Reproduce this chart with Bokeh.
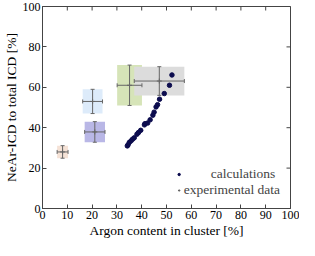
import math
from bokeh.plotting import figure
from bokeh.models import (ColumnDataSource, Whisker, TeeHead,
                          FixedTicker, Legend, LegendItem, Range1d)
from bokeh.embed import file_html
from bokeh.resources import INLINE

# calculations
calc_x = [34.2, 34.5, 35.0, 35.7, 36.3, 37.0, 38.1, 38.7, 39.6, 41.1, 41.3,
          42.4, 43.4, 44.5, 45.0, 45.8, 46.4, 47.2, 49.1, 51.2, 52.2]
calc_y = [31.0, 31.5, 32.7, 33.5, 34.3, 35.0, 36.8, 37.6, 38.7, 41.4, 42.0,
          42.3, 43.9, 46.2, 47.7, 50.3, 51.4, 54.1, 56.9, 61.0, 66.1]

# experimental data
exp_x = [8.1, 21.1, 20.2, 35.1, 47.1]
exp_y = [28.0, 37.9, 53.0, 61.0, 63.1]
exp_xerr = [2.2, 4.1, 4.0, 5.0, 10.1]
exp_yerr = [3.1, 5.1, 6.0, 10.0, 7.1]
exp_colors = ["#f5e2d6", "#b9b7e6", "#ddebfa", "#d6e4b8", "#dcdcdc"]

x_ticks = [0, 10, 20, 30, 40, 50, 60, 70, 80, 90, 100]
y_ticks = [0, 20, 40, 60, 80, 100]

legend_labels = ["calculations", "experimental data"]

FONT = "Liberation Serif"
AX_COL = "#444444"

src = ColumnDataSource(dict(
    x=exp_x, y=exp_y,
    left=[a - b for a, b in zip(exp_x, exp_xerr)],
    right=[a + b for a, b in zip(exp_x, exp_xerr)],
    bottom=[a - b for a, b in zip(exp_y, exp_yerr)],
    top=[a + b for a, b in zip(exp_y, exp_yerr)],
    color=exp_colors,
))

p = figure(width=299, height=240, output_backend="svg", toolbar_location=None,
           x_range=Range1d(0, 100), y_range=Range1d(0, 100),
           min_border_top=6, min_border_right=9, min_border_left=0,
           min_border_bottom=0)
p.grid.visible = False
p.outline_line_color = AX_COL
p.background_fill_color = "white"

p.quad(left="left", right="right", bottom="bottom", top="top", source=src,
       fill_color="color", line_color=None)

err_col = "#666666"
for dim, base, lo, hi in [("width", "y", "left", "right"),
                          ("height", "x", "bottom", "top")]:
    w = Whisker(base=base, lower=lo, upper=hi, source=src, dimension=dim,
                line_color=err_col, line_width=1, level="annotation",
                upper_head=TeeHead(size=4, line_color=err_col, line_width=1),
                lower_head=TeeHead(size=4, line_color=err_col, line_width=1))
    p.add_layout(w)

cross_r = p.scatter(exp_x, exp_y, marker="cross", size=5, line_color=err_col,
                    line_width=1)
calc_r = p.scatter(calc_x, calc_y, marker="circle", size=4.5, fill_color="#0c0c4e",
                   line_color="#0c0c4e")

# mirror ticks on top and right edges (clipped to the frame)
x_end = p.x_range.end
y_end = p.y_range.end
p.scatter(x_ticks, [y_end] * len(x_ticks), marker="dash", angle=math.pi / 2,
          size=8, line_color=AX_COL, line_width=1)
p.scatter([x_end] * len(y_ticks), y_ticks, marker="dash", angle=0,
          size=8, line_color=AX_COL, line_width=1)

for ax in [p.xaxis[0], p.yaxis[0]]:
    ax.major_tick_in = 4
    ax.major_tick_out = 0
    ax.minor_tick_line_color = None
    ax.axis_line_color = AX_COL
    ax.major_tick_line_color = AX_COL
    ax.major_label_text_font = FONT
    ax.major_label_text_font_size = "12px"
    ax.major_label_text_color = "black"
    ax.axis_label_text_font = FONT
    ax.axis_label_text_font_size = "13.5px"
    ax.axis_label_text_font_style = "normal"
    ax.axis_label_text_color = "black"
    ax.major_label_standoff = 2
    ax.axis_label_standoff = 1

p.xaxis[0].ticker = FixedTicker(ticks=x_ticks)
p.yaxis[0].ticker = FixedTicker(ticks=y_ticks)
p.xaxis[0].axis_label = "Argon content in cluster [%]"
p.yaxis[0].axis_label = "NeAr-ICD to total ICD [%]"

# right-aligned look: pad the shorter label with non-breaking spaces
pad = "\u00a0" * 8
legend = Legend(items=[LegendItem(label=pad + legend_labels[0], renderers=[calc_r]),
                       LegendItem(label=legend_labels[1], renderers=[cross_r])],
                location="bottom_right", border_line_alpha=0,
                background_fill_alpha=0, label_text_font=FONT,
                label_text_font_size="13.5px", glyph_width=6, glyph_height=12,
                spacing=0, padding=2, margin=8, label_standoff=2,
                label_height=14)
p.add_layout(legend)

open("out.html", "w").write(file_html(p, INLINE))
